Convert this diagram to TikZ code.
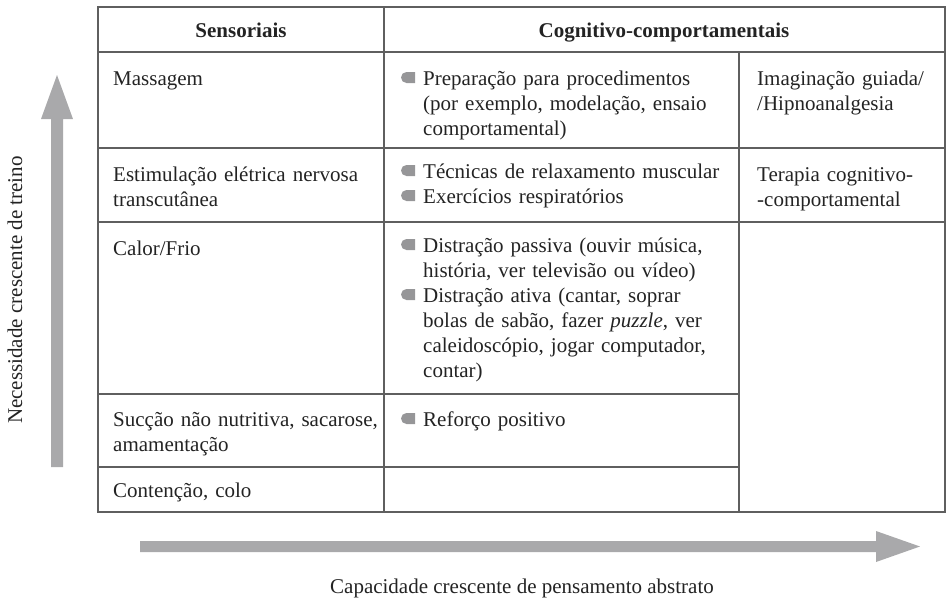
\documentclass[tikz,border=0pt]{standalone}
\usepackage{fontspec}
\setmainfont{Liberation Serif}
\definecolor{arrowgray}{RGB}{169,169,171}
\definecolor{bulletgray}{RGB}{150,150,152}
\definecolor{rulegray}{RGB}{95,95,95}
\definecolor{inkc}{RGB}{35,35,35}
\newcommand{\mybul}[2]{\fill[bulletgray] (#1+14,#2-13) -- (#1+5.5,#2-13) arc[start angle=270,end angle=90,radius=5.5] -- (#1+14,#2-2) -- cycle;}
\begin{document}
\begin{tikzpicture}[x=1pt,y=-1pt,
  cell/.style={anchor=north west, inner sep=0pt, align=left, text=inkc,
    font=\fontsize{21}{25}\selectfont, text width=#1},
  cell/.default=320pt,
  head/.style={anchor=base, inner sep=0pt, text=inkc, font=\fontsize{21}{25}\selectfont\bfseries},
  axislabel/.style={inner sep=0pt, text=inkc, font=\fontsize{21}{25}\selectfont},
  rule/.style={draw=rulegray, line width=1.3pt},
  bigarrow/.style={fill=arrowgray}]
\useasboundingbox (0,0) rectangle (947,600);
% table rules
\draw[rule] (98,7) rectangle (945,512);
\draw[rule] (98,52) -- (945,52);
\draw[rule] (384,7) -- (384,512);
\draw[rule] (739,52) -- (739,512);
\draw[rule] (98,148) -- (945,148);
\draw[rule] (98,222) -- (945,222);
\draw[rule] (98,394) -- (739,394);
\draw[rule] (98,467) -- (739,467);
% headers
\node[head] (hsens) at (241,37) {Sensoriais};
\node[head] (hcog) at (664,37) {Cognitivo-comportamentais};
% column 1
\node[cell] (massagem) at (113,67.5) {\strut Massagem};
\node[cell] (estim) at (113,163.5) {\strut Estimulação elétrica nervosa\\transcutânea};
\node[cell] (calor) at (113,237.5) {\strut Calor/Frio};
\node[cell] (succao) at (113,408.5) {\strut Sucção não nutritiva, sacarose,\\amamentação};
\node[cell] (contencao) at (113,479.5) {\strut Contenção, colo};
% column 2
\mybul{401}{85}
\node[cell] (prep) at (423,67.5) {\strut Preparação para procedimentos\\(por exemplo, modelação, ensaio\\comportamental)};
\mybul{401}{178}
\node[cell] (tecn) at (423,160.5) {\strut Técnicas de relaxamento muscular};
\mybul{401}{203}
\node[cell] (exerc) at (423,185.5) {\strut Exercícios respiratórios};
\mybul{401}{252}
\node[cell] (dpass) at (423,234.5) {\strut Distração passiva (ouvir música,\\história, ver televisão ou vídeo)};
\mybul{401}{302}
\node[cell] (dativ) at (423,284.5) {\strut Distração ativa (cantar, soprar\\bolas de sabão, fazer \textit{puzzle}, ver\\caleidoscópio, jogar computador,\\contar)};
\mybul{401}{426}
\node[cell] (reforco) at (423,408.5) {\strut Reforço positivo};
% column 3
\node[cell=190pt] (imag) at (757,67.5) {\strut Imaginação guiada/\\/Hipnoanalgesia};
\node[cell=190pt] (terap) at (757,163.5) {\strut Terapia cognitivo-\\-comportamental};
% arrows
\fill[bigarrow] (51,467) -- (51,119) -- (41,119) -- (57,75) -- (73,119) -- (63,119) -- (63,467) -- cycle;
\fill[bigarrow] (140,541) -- (876,541) -- (876,531) -- (920,546.5) -- (876,562) -- (876,552) -- (140,552) -- cycle;
% axis labels
\node[axislabel, rotate=90] (ylab) at (15,290) {Necessidade crescente de treino};
\node[axislabel, anchor=base] (xlab) at (522,593) {Capacidade crescente de pensamento abstrato};
\end{tikzpicture}
\end{document}
